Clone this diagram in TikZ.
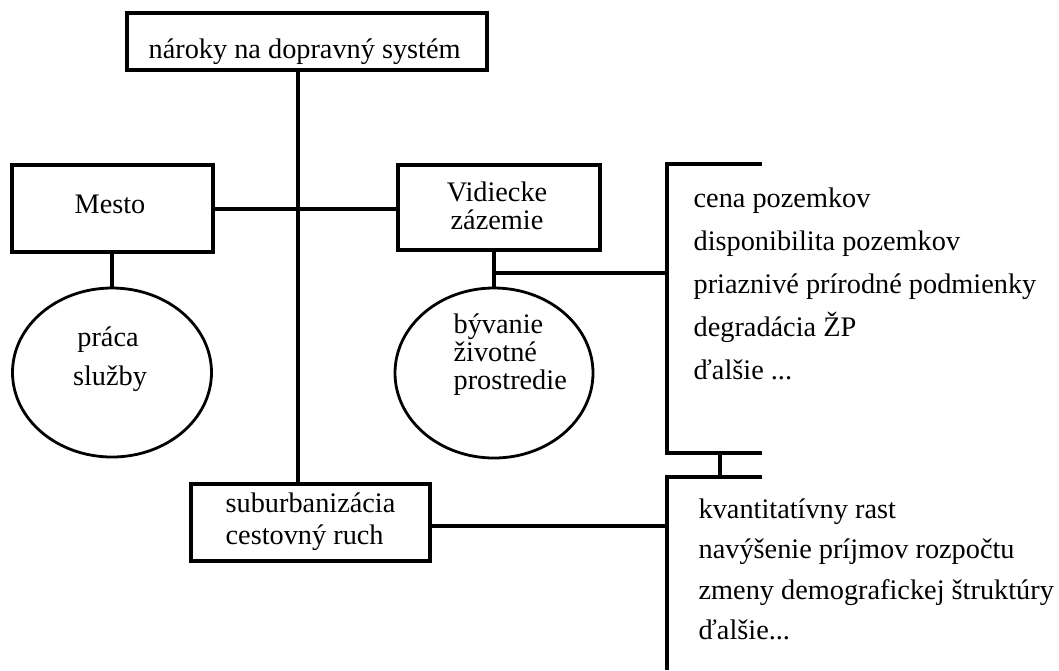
\documentclass[tikz,border=0pt]{standalone}
\usepackage{fontspec}
\setmainfont{Liberation Serif}
\usetikzlibrary{shapes.geometric}
\begin{document}
\begin{tikzpicture}[x=1pt,y=-1pt,
  line width=3.3pt,
  box/.style={draw, rectangle, inner sep=0pt, line width=3.3pt},
  oval/.style={draw, ellipse, inner sep=0pt, line width=2.8pt},
  txt/.style={font=\fontsize{28.3}{28}\selectfont, inner sep=0pt, anchor=base west},
  ctxt/.style={txt, anchor=base},
  wire/.style={line width=3.3pt}]
\useasboundingbox[fill=white] (0,0) rectangle (1059,670);

% boxes
\node[box, minimum width=360pt, minimum height=57pt] (top) at (307,41.5) {};
\node[box, minimum width=201pt, minimum height=87pt] (mesto) at (112.5,208.5) {};
\node[box, minimum width=202pt, minimum height=85pt] (vid) at (499,207.5) {};
\node[box, minimum width=239pt, minimum height=77pt] (sub) at (310.5,522.5) {};
\node[oval, minimum width=199pt, minimum height=169pt] (ov1) at (112,372.5) {};
\node[oval, minimum width=198pt, minimum height=170pt] (ov2) at (494,373) {};

% texts
\node[txt] (tTop) at (147,58) {nároky na dopravný systém};
\node[ctxt] (tMesto) at (110,213) {Mesto};
\node[ctxt] (tVid1) at (497,201) {Vidiecke};
\node[ctxt] (tVid2) at (497,229) {zázemie};
\node[ctxt] (tOv1a) at (108,346) {práca};
\node[ctxt] (tOv1b) at (110,385) {služby};
\node[txt] (tOv2a) at (452,333) {bývanie};
\node[txt] (tOv2b) at (452,361) {životné};
\node[txt] (tOv2c) at (452,389) {prostredie};
\node[txt] (tSub1) at (224,512) {suburbanizácia};
\node[txt] (tSub2) at (224,544) {cestovný ruch};

\node[txt] (la1) at (692,207) {cena pozemkov};
\node[txt] (la2) at (692,250) {disponibilita pozemkov};
\node[txt] (la3) at (692,293) {priaznivé prírodné podmienky};
\node[txt] (la4) at (692,336) {degradácia ŽP};
\node[txt] (la5) at (692,379) {ďalšie ...};

\node[txt] (lb1) at (697,518) {kvantitatívny rast};
\node[txt] (lb2) at (697,558.5) {navýšenie príjmov rozpočtu};
\node[txt] (lb3) at (697,599) {zmeny demografickej štruktúry};
\node[txt] (lb4) at (697,639.5) {ďalšie...};

% coordinates
\coordinate (spine) at (298,0);
\coordinate (b1t) at (667,164);
\coordinate (b1tr) at (762,164);
\coordinate (b1b) at (667,453);
\coordinate (b1br) at (762,453);
\coordinate (b2t) at (667,477);
\coordinate (b2tr) at (762,477);
\coordinate (b2b) at (667,670);
\coordinate (c1) at (720,453);
\coordinate (c2) at (720,477);
\coordinate (j1) at (494,273);

% connectors
\draw[wire] (spine |- top.south) -- (spine |- sub.north);
\draw[wire] (mesto.east |- 0,209) -- (vid.west |- 0,209);
\draw[wire] (ov1.north |- mesto.south) -- (ov1.north);
\draw[wire] (ov2.north |- vid.south) -- (ov2.north);
\draw[wire] (j1) -- (j1 -| b1t);
\draw[wire] (b1tr) -- (b1t) -- (b1b) -- (b1br);
\draw[wire] (c1) -- (c2);
\draw[wire] (b2tr) -- (b2t) -- (b2b);
\draw[wire] (sub.east |- 0,526) -- (b2t |- 0,526);
\end{tikzpicture}
\end{document}
